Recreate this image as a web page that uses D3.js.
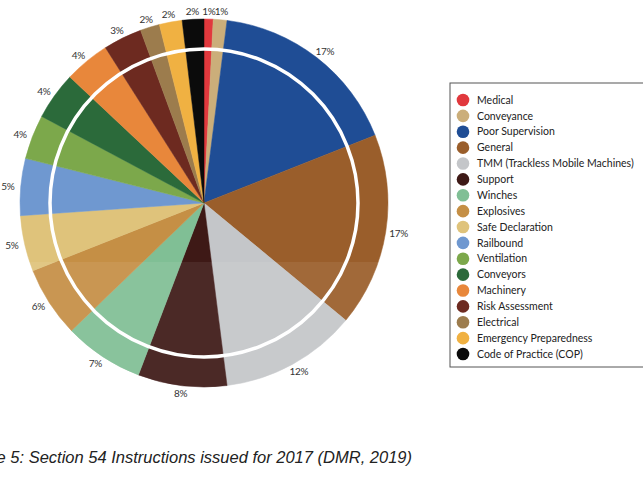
<!DOCTYPE html>
<html>
<head>
<meta charset="utf-8">
<script src="https://cdn.jsdelivr.net/npm/d3@7"></script>
<style>
  body { margin: 0; background: #fff; }
  svg { display: block; }
</style>
</head>
<body>
<div id="chart"></div>
<script>
// Section 54 instructions by category, 2017 (shares)
const categories = ['Medical', 'Conveyance', 'Poor Supervision', 'General', 'TMM (Trackless Mobile Machines)',
    'Support', 'Winches', 'Explosives', 'Safe Declaration', 'Railbound', 'Ventilation', 'Conveyors',
    'Machinery', 'Risk Assessment', 'Electrical', 'Emergency Preparedness', 'Code of Practice (COP)'];
const shares = [0.8, 1.2, 17, 17, 12, 7.8, 7, 6.2, 4.9, 5, 3.9, 4.2, 4, 3.4, 1.7, 2, 1.9];
const labels = ['1%', '1%', '17%', '17%', '12%', '8%', '7%', '6%', '5%', '5%', '4%', '4%', '4%', '3%', '2%', '2%', '2%'];
const colors = ['#e1383d', '#cbae7a', '#1f4d95', '#9a5e2b', '#c4c6c9', '#3e1916', '#80bf95', '#c58f45',
    '#dfc37b', '#6f98d0', '#7ca84b', '#2b6a3a', '#e8873b', '#6d2a20', '#9c7c4d', '#f0b142', '#0b0b0b'];

const width = 643, height = 501;
const cx = 204, cy = 203, radius = 184;

const data = categories.map((c, i) => ({ name: c, value: shares[i], label: labels[i] }));

const color = d3.scaleOrdinal().domain(categories).range(colors);

const svg = d3.select('#chart').append('svg')
    .attr('width', width)
    .attr('height', height);

const pie = d3.pie().sort(null).value(d => d.value);
const arc = d3.arc().innerRadius(0).outerRadius(radius);
const labelArc = d3.arc().innerRadius(187).outerRadius(187);

const g = svg.append('g').attr('transform', `translate(${cx},${cy})`);

g.selectAll('path.slice')
    .data(pie(data))
    .join('path')
    .attr('class', 'slice')
    .attr('d', arc)
    .attr('fill', d => color(d.data.name))
    .attr('stroke', d => color(d.data.name))
    .attr('stroke-width', 0.5);

// the scan is a little lighter on the lower part of the disc
svg.append('clipPath').attr('id', 'disc')
    .append('circle').attr('cx', cx).attr('cy', cy).attr('r', radius);
svg.append('rect')
    .attr('clip-path', 'url(#disc)')
    .attr('x', cx - radius).attr('y', 262)
    .attr('width', radius * 2).attr('height', radius)
    .attr('fill', '#fff').attr('opacity', 0.07);

// white ring
g.append('circle')
    .attr('r', 154)
    .attr('fill', 'none')
    .attr('stroke', '#fff')
    .attr('stroke-width', 3.5);

// labels sit just outside the rim, pushed out by half their box
const labelPos = d => {
    const [x, y] = labelArc.centroid(d);
    const a = (d.startAngle + d.endAngle) / 2;
    return [x + Math.sin(a) * 10, y - Math.cos(a) * 5];
};

g.selectAll('text.pct')
    .data(pie(data))
    .join('text')
    .attr('class', 'pct')
    .attr('transform', d => `translate(${labelPos(d)})`)
    .attr('text-anchor', 'middle')
    .attr('dy', '0.35em')
    .style('font-family', 'Lato, "Open Sans", sans-serif')
    .style('font-size', '10px')
    .style('letter-spacing', '-0.3px')
    .style('fill', '#333')
    .text(d => d.data.label);

// legend
const legend = svg.append('g').attr('transform', 'translate(450,83)');
legend.append('rect')
    .attr('width', 210).attr('height', 284)
    .attr('fill', '#fff')
    .attr('stroke', '#555')
    .attr('stroke-width', 1);

const ly = d3.scalePoint().domain(categories).range([17, 271]);

const rows = legend.selectAll('g.row')
    .data(categories)
    .join('g')
    .attr('class', 'row')
    .attr('transform', d => `translate(0,${ly(d)})`);

rows.append('circle')
    .attr('cx', 13).attr('r', 6.3)
    .attr('fill', d => color(d));

rows.append('text')
    .attr('x', 27)
    .attr('dy', '0.35em')
    .style('font-family', 'Lato, "Open Sans", sans-serif')
    .style('font-size', '10.5px')
    .style('fill', '#222')
    .text(d => d);

// caption (cut on the left as in the source page)
svg.append('text')
    .attr('x', 412).attr('y', 463)
    .attr('text-anchor', 'end')
    .style('font-family', '"Liberation Sans", Arial, sans-serif')
    .style('font-style', 'italic')
    .style('font-size', '16.5px')
    .style('fill', '#222')
    .text('Figure 5: Section 54 Instructions issued for 2017 (DMR, 2019)');
</script>
</body>
</html>
